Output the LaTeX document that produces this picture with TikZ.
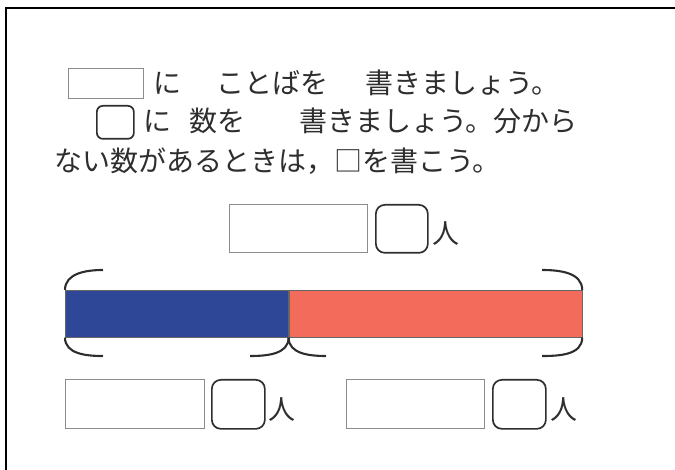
\documentclass[tikz,border=0pt]{standalone}
\usepackage{fontspec}
\newfontfamily\jp{Noto Sans CJK JP}
\definecolor{barblue}{HTML}{2E4797}
\definecolor{barred}{HTML}{F26B5B}
\definecolor{ink}{HTML}{2E2E2E}
\begin{document}
\begin{tikzpicture}[x=1pt,y=-1pt,
  txt/.style={font=\jp\fontsize{28}{28}\selectfont, text=ink, inner sep=0pt, anchor=west},
  ren/.style={font=\jp\fontsize{27}{27}\selectfont, text=ink, inner sep=0pt, anchor=west},
  namebox/.style={draw=black!45, line width=0.9pt, inner sep=0pt, anchor=north west},
  numbox/.style={draw=ink, line width=1.7pt, rounded corners=9pt, inner sep=0pt, anchor=north west},
  barpart/.style={draw=black!60, line width=0.6pt, inner sep=0pt, anchor=north west, minimum height=47pt},
  bracepart/.style={draw=ink, line width=2.1pt},
  frame/.style={draw=black, line width=2.6pt}]
\useasboundingbox (0,0) rectangle (675,470);
\draw[frame] (6,470) -- (6,8) -- (675,8);
% instructions
\node[namebox, minimum width=75pt, minimum height=30pt] (s1) at (68,68) {};
\node[txt] (l1a) at (153,83) {に};
\node[txt] (l1b) at (216,83) {ことばを};
\node[txt] (l1c) at (365,83) {書きましょう。};
\node[numbox, rounded corners=6pt, minimum width=37pt, minimum height=33pt] (s2) at (96,105) {};
\node[txt] (l2a) at (143,121) {に};
\node[txt] (l2b) at (189,121) {数を};
\node[txt] (l2c) at (299,121) {書きましょう。分から};
\node[txt] (l3) at (54,161) {ない数があるときは，□を書こう。};
% top answer
\node[namebox, minimum width=138pt, minimum height=48pt] (tn) at (229,204) {};
\node[numbox, minimum width=52pt, minimum height=48pt] (tq) at (375,204) {};
\node[ren] (tr) at (432,234) {人};
% bar
\node[barpart, fill=barblue, minimum width=223pt] (blue) at (65,290) {};
\node[barpart, fill=barred, minimum width=293pt] (red) at (blue.north east) {};
\coordinate (tl) at (103,270);
\coordinate (tr2) at (542,270);
\coordinate (bl) at (103,356);
\coordinate (bm1) at (250,356);
\coordinate (bm2) at (326,356);
\coordinate (br) at (542,356);
\draw[bracepart] (blue.north west) to[out=90,in=180] (tl);
\draw[bracepart] (red.north east) to[out=90,in=0] (tr2);
\draw[bracepart] (blue.south west) to[out=-90,in=180] (bl);
\draw[bracepart] (blue.south east) to[out=-90,in=0] (bm1);
\draw[bracepart] (blue.south east) to[out=-90,in=180] (bm2);
\draw[bracepart] (red.south east) to[out=-90,in=0] (br);
% bottom answers
\node[namebox, minimum width=139pt, minimum height=49pt] (ln) at (65,379) {};
\node[numbox, minimum width=53pt, minimum height=49pt] (lq) at (211,379) {};
\node[ren] (lr) at (268,410) {人};
\node[namebox, minimum width=138pt, minimum height=49pt] (rn) at (346,379) {};
\node[numbox, minimum width=53pt, minimum height=49pt] (rq) at (492,379) {};
\node[ren] (rr) at (550,410) {人};
\end{tikzpicture}
\end{document}
